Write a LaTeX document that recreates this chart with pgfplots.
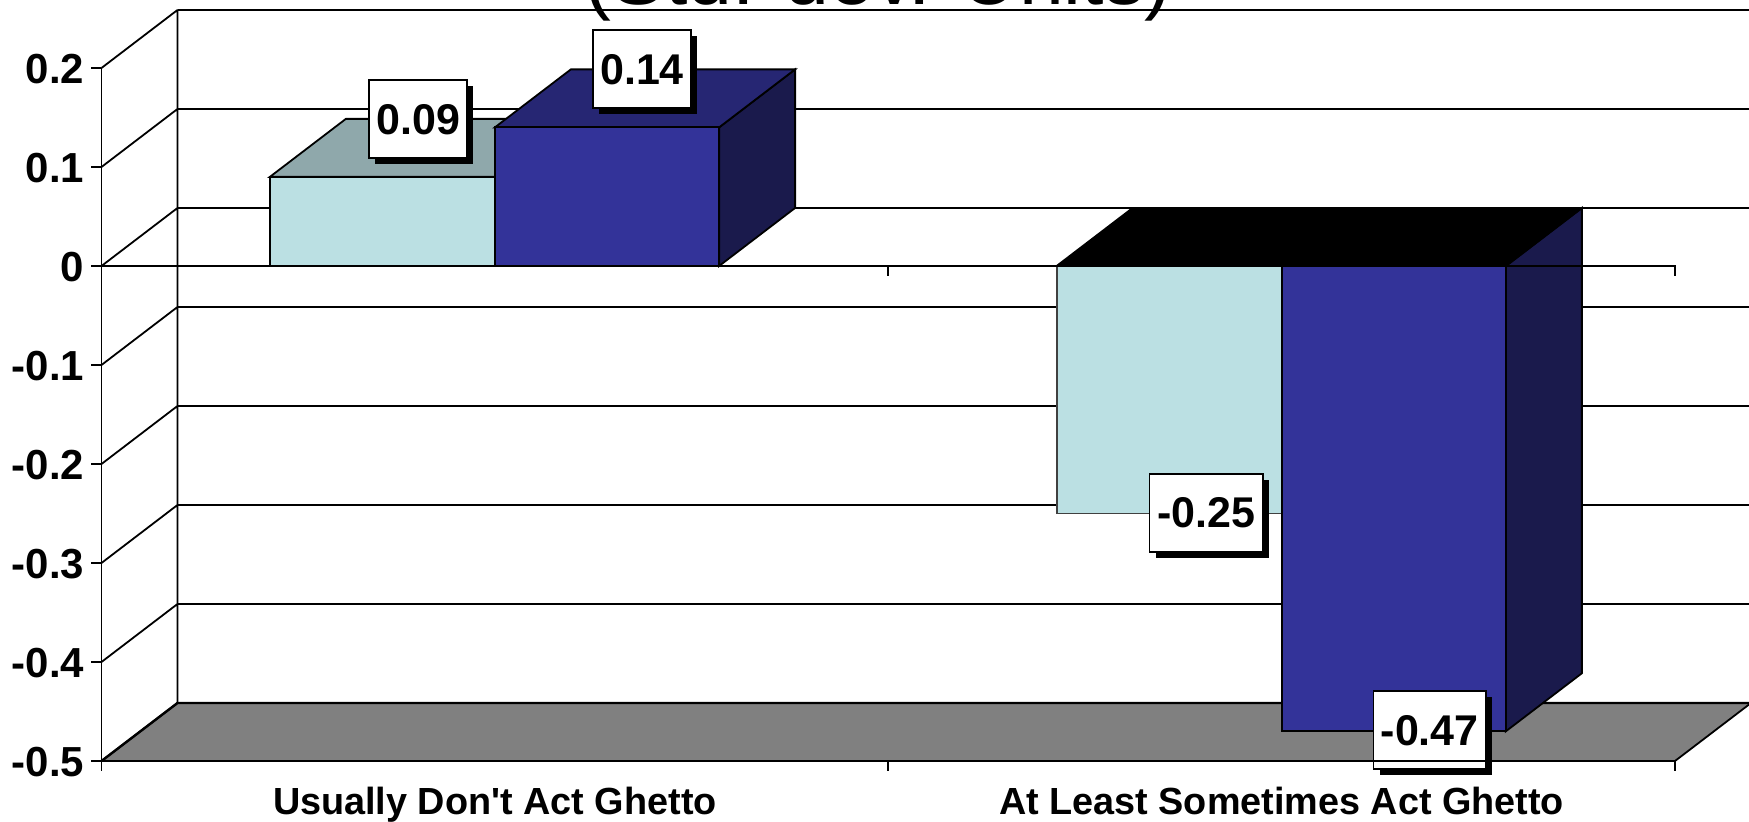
\documentclass[border=0pt]{standalone}
\usepackage{fontspec}
\setmainfont{Liberation Sans}
\usepackage{pgfplots}
\pgfplotsset{compat=1.18}
\usetikzlibrary{shadows}

\definecolor{paleface}{HTML}{BBE0E3}
\definecolor{paletop}{HTML}{8FA8AB}
\definecolor{navyface}{HTML}{333399}
\definecolor{navytop}{HTML}{262673}
\definecolor{navyside}{HTML}{1A1A4C}
\definecolor{floorgrey}{HTML}{808080}

% Boxed value label with a hard black drop shadow
\pgfplotsset{
  value label/.style n args={3}{
    forget plot, no marks, draw=none,
    point meta=explicit symbolic,
    nodes near coords,
    nodes near coords align={center},
    every node near coord/.style={
      font=\bfseries\fontsize{21.5}{24}\selectfont,
      text=black, fill=white, draw=black, line width=0.9pt,
      anchor=center, inner xsep=0pt, inner ysep=0pt,
      minimum width=#1, minimum height=39pt,
      xshift=#2, yshift=#3,
      copy shadow={shadow xshift=3pt, shadow yshift=-3pt, fill=black, draw=none, opacity=1}
    }
  },
  face/.style={forget plot, no marks, line width=0.9pt, line join=miter}
}

\begin{document}
\begin{tikzpicture}
  \path[use as bounding box, clip] (-50.75pt,-30.5pt) rectangle (823.75pt,380.5pt);
  \begin{axis}[
    scale only axis, width=786.75pt, height=346.5pt,
    xmin=-0.5, xmax=1.5, ymin=-0.5, ymax=0.2,
    clip=false,
    axis y line=left, axis x line=bottom,
    axis line style={-, line width=0.9pt},
    tick style={black, line width=0.9pt},
    tick align=outside,
    major tick length=5pt,
    xtick={-0.5,0.5,1.5}, xticklabels={},
    extra x ticks={0,1},
    extra x tick labels={Usually Don\textquotesingle t Act Ghetto, At Least Sometimes Act Ghetto},
    extra x tick style={major tick length=0pt,
      tick label style={font=\bfseries\fontsize{18.9}{22}\selectfont, anchor=base, yshift=-27pt, inner sep=0pt}},
    ytick={-0.5,-0.4,-0.3,-0.2,-0.1,0,0.1,0.2},
    yticklabels={-0.5,-0.4,-0.3,-0.2,-0.1,0,0.1,0.2},
    yticklabel style={font=\bfseries\fontsize{21}{24}\selectfont, anchor=east, inner sep=0pt, xshift=-3.5pt, yshift=-0.4pt},
    title={(Std. dev. Units)},
    every axis title shift=0pt,
    title style={at={(axis description cs:0.4935,1.0909)}, anchor=base,
      font=\fontsize{40.3}{44}\selectfont, inner sep=0pt},
    unbounded coords=jump,
    % The front edge of the floor runs above the value labels
    after end axis/.code={\draw[line width=1.1pt] (rel axis cs:0,0) -- (rel axis cs:1,0);},
  ]
    % Floor of the chart box
    \addplot[face, draw=black, fill=floorgrey] coordinates
      {(-0.5,-0.5) (-0.4034,-0.4414) (1.5966,-0.4414) (1.5,-0.5)} -- cycle;
    \addplot[face, draw=black, line width=1.2pt] coordinates
      {(-0.5,-0.5) (-0.4034,-0.4414) (1.5966,-0.4414)};

    % Back wall grid lines, side wall diagonals and back left edge
    \addplot[face, draw=black] coordinates {
      (-0.4034,0.2586) (1.5966,0.2586) (nan,nan)
      (-0.4034,0.1586) (1.5966,0.1586) (nan,nan)
      (-0.4034,0.0586) (1.5966,0.0586) (nan,nan)
      (-0.4034,-0.0414) (1.5966,-0.0414) (nan,nan)
      (-0.4034,-0.1414) (1.5966,-0.1414) (nan,nan)
      (-0.4034,-0.2414) (1.5966,-0.2414) (nan,nan)
      (-0.4034,-0.3414) (1.5966,-0.3414) (nan,nan)
      (-0.4034,0.2586) (-0.4034,-0.4414) (nan,nan)
      (-0.5,0.2) (-0.4034,0.2586) (nan,nan)
      (-0.5,0.1) (-0.4034,0.1586) (nan,nan)
      (-0.5,0) (-0.4034,0.0586) (nan,nan)
      (-0.5,-0.1) (-0.4034,-0.0414) (nan,nan)
      (-0.5,-0.2) (-0.4034,-0.1414) (nan,nan)
      (-0.5,-0.3) (-0.4034,-0.2414) (nan,nan)
      (-0.5,-0.4) (-0.4034,-0.3414)
    };

    % First group, pale bar: 0.09
    \addplot[face, draw=black, fill=paletop] coordinates
      {(-0.286,0.09) (-0.1894,0.1486) (0.0966,0.1486) (0,0.09)} -- cycle;
    \addplot[face, draw=black, fill=paleface] coordinates
      {(-0.286,0) (-0.286,0.09) (0,0.09) (0,0)} -- cycle;

    % First group, navy bar: 0.14
    \addplot[face, draw=black, fill=navyside] coordinates
      {(0.285,0) (0.285,0.14) (0.3816,0.1986) (0.3816,0.0586)} -- cycle;
    \addplot[face, draw=black, fill=navytop] coordinates
      {(0,0.14) (0.0966,0.1986) (0.3816,0.1986) (0.285,0.14)} -- cycle;
    \addplot[face, draw=black, fill=navyface] coordinates
      {(0,0) (0,0.14) (0.285,0.14) (0.285,0)} -- cycle;

    % Second group: the faces at zero are seen from above, in black
    \addplot[face, draw=black, fill=navyside] coordinates
      {(1.285,0) (1.3816,0.0586) (1.3816,-0.4114) (1.285,-0.47)} -- cycle;
    \addplot[face, draw=black, fill=black] coordinates
      {(0.714,0) (0.8106,0.0586) (1.0966,0.0586) (1,0)} -- cycle;
    \addplot[face, draw=black, fill=black] coordinates
      {(1,0) (1.0966,0.0586) (1.3816,0.0586) (1.285,0)} -- cycle;
    \addplot[face, draw=black!75, fill=paleface] coordinates
      {(0.714,0) (0.714,-0.25) (1,-0.25) (1,0)} -- cycle;
    \addplot[face, draw=black, fill=navyface] coordinates
      {(1,0) (1,-0.47) (1.285,-0.47) (1.285,0)} -- cycle;

    % Value labels
    \addplot[value label={49pt}{18pt}{28.8pt}] coordinates {(-0.143,0.09) [0.09]};
    \addplot[value label={49.3pt}{17.5pt}{29pt}] coordinates {(0.1425,0.14) [0.14]};
    \addplot[value label={56.6pt}{18.5pt}{0.4pt}] coordinates {(0.857,-0.25) [-0.25]};
    \addplot[value label={56.2pt}{18pt}{0.5pt}] coordinates {(1.1425,-0.47) [-0.47]};

    % Zero line with its ticks
    \addplot[face, draw=black] coordinates {(-0.5,0) (1.5,0) (1.5,-0.0101) (nan,nan) (0.5,0) (0.5,-0.0101)};
  \end{axis}
\end{tikzpicture}
\end{document}
